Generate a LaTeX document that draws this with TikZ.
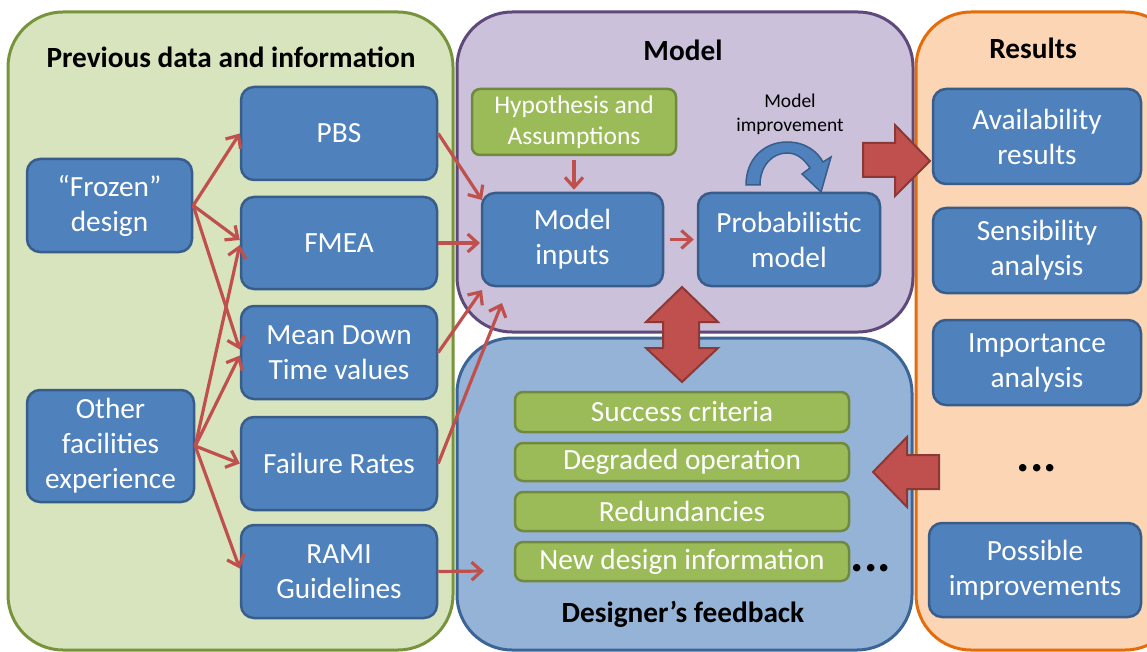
\documentclass[tikz,border=0pt]{standalone}
\usepackage{fontspec}
\setmainfont{Carlito}
\usetikzlibrary{arrows.meta}
\definecolor{bfill}{HTML}{4F81BD}
\definecolor{bdraw}{HTML}{385D8A}
\definecolor{gfill}{HTML}{9BBB59}
\definecolor{gdraw}{HTML}{71893F}
\definecolor{rfill}{HTML}{C0504D}
\definecolor{rdraw}{HTML}{8C3836}
\definecolor{cafill}{HTML}{D7E4BD}
\definecolor{cadraw}{HTML}{77933C}
\definecolor{cbfill}{HTML}{CCC1DA}
\definecolor{cbdraw}{HTML}{5F497A}
\definecolor{ccfill}{HTML}{95B3D7}
\definecolor{ccdraw}{HTML}{3B6596}
\definecolor{cdfill}{HTML}{FCD5B5}
\definecolor{cddraw}{HTML}{E46C0A}
\begin{document}
\begin{tikzpicture}[x=1pt,y=-1pt,
  bluebox/.style={draw=bdraw, fill=bfill, line width=2.5pt, rounded corners=13pt, text=white, align=center, inner sep=0pt, font=\fontsize{29.3}{35}\selectfont},
  greenbox/.style={draw=gdraw, fill=gfill, line width=2.5pt, rounded corners=8pt, text=white, align=center, inner sep=0pt, font=\fontsize{29.3}{34}\selectfont},
  container/.style={line width=3pt, rounded corners=55pt},
  titletext/.style={font=\bfseries\fontsize{29.3}{34}\selectfont, inner sep=0pt},
  link/.style={draw=rfill, line width=3.2pt, -{Straight Barb[length=10pt,width=18pt]}},
  block/.style={fill=rfill, draw=rdraw, line width=2pt, line join=miter},
  dots/.style={font=\bfseries\fontsize{50}{50}\selectfont, inner sep=0pt, anchor=base},
]
\useasboundingbox (0,0) rectangle (1147,652);
% containers
\draw[container, fill=cafill, draw=cadraw] (8,12) rectangle (453,650);
\draw[container, fill=cbfill, draw=cbdraw] (457,12) rectangle (913,332);
\draw[container, fill=ccfill, draw=ccdraw] (457,338) rectangle (912,650);
\draw[container, fill=cdfill, draw=cddraw] (916,12) rectangle (1180,650);
% titles
\node[titletext] (t1) at (231,57) {Previous data and information};
\node[titletext] (t2) at (683,50) {Model};
\node[titletext] (t3) at (1033,48) {Results};
\node[titletext] (t4) at (683,614) {Designer’s feedback};
% left boxes
\node[bluebox, minimum width=165pt, minimum height=93pt] (frozen) at (109.5,205.5) {“Frozen”\\design};
\node[bluebox, minimum width=167pt, minimum height=112pt] (other) at (110.5,446) {Other\\facilities\\experience};
\node[bluebox, minimum width=196pt, minimum height=93pt] (pbs) at (339,133.5) {PBS};
\node[bluebox, minimum width=196pt, minimum height=92pt] (fmea) at (339,243) {FMEA};
\node[bluebox, minimum width=196pt, minimum height=93pt] (mdt) at (339,352.5) {Mean Down\\Time values};
\node[bluebox, minimum width=196pt, minimum height=93pt] (fr) at (339,463.5) {Failure Rates};
\node[bluebox, minimum width=196pt, minimum height=93pt] (rami) at (339,571.5) {RAMI\\Guidelines};
% model
\node[greenbox, minimum width=204pt, minimum height=66pt, font=\fontsize{25.5}{31}\selectfont] (hyp) at (574,122) {Hypothesis and\\Assumptions};
\node[bluebox, minimum width=181pt, minimum height=93pt] (minp) at (572.5,239.5) {Model\\inputs};
\node[bluebox, minimum width=182pt, minimum height=93pt] (prob) at (789,239.5) {Probabilistic\\model};
\node[align=center, inner sep=0pt, font=\fontsize{19.5}{24}\selectfont] (mimp) at (790,114.5) {Model\\improvement};
% results
\node[bluebox, minimum width=208pt, minimum height=95pt] (avail) at (1037,136.5) {Availability\\results};
\node[bluebox, minimum width=208pt, minimum height=85pt] (sens) at (1037,250.5) {Sensibility\\analysis};
\node[bluebox, minimum width=208pt, minimum height=85pt] (imp) at (1037,362.5) {Importance\\analysis};
\node[dots] (rdots) at (1037,471) {...};
\node[bluebox, minimum width=212pt, minimum height=94pt] (poss) at (1035,570) {Possible\\improvements};
% feedback
\node[greenbox, minimum width=334pt, minimum height=40pt] (succ) at (682,412) {Success criteria};
\node[greenbox, minimum width=334pt, minimum height=38pt] (degr) at (682,462) {Degraded operation};
\node[greenbox, minimum width=334pt, minimum height=39pt] (redu) at (682,511.5) {Redundancies};
\node[greenbox, minimum width=334pt, minimum height=39pt] (newd) at (682,561.5) {New design information};
\node[dots] (fdots) at (871,571) {...};
% small arrows
\coordinate (fe) at (frozen.east);
\coordinate (oe) at (other.east);
\draw[link] (fe) -- (pbs.west);
\draw[link] (fe) -- ([yshift=3pt]fmea.west);
\draw[link] (fe) -- ([yshift=3pt]mdt.west);
\draw[link] (oe) -- ([yshift=-2pt]fmea.west);
\draw[link] (oe) -- ([yshift=-3pt]mdt.west);
\draw[link] (oe) -- (fr.west);
\draw[link] (oe) -- ([yshift=3pt]rami.west);
\coordinate (pin1) at (482,200);
\coordinate (pin2) at (482,290);
\coordinate (pin3) at (502,303);
\coordinate (pin4) at (484,571);
\draw[link] (pbs.east) -- (pin1);
\draw[link] (fmea.east) -- (fmea.east -| 480,0);
\draw[link] (mdt.east) -- (pin2);
\draw[link] (fr.east) -- (pin3);
\draw[link] (rami.east) -- (pin4);
\draw[link, shorten <=4pt, shorten >=2pt] (hyp.south) -- (hyp.south |- minp.north);
\draw[link, shorten <=6pt, shorten >=3pt] (minp.east) -- (prob.west);
% curved improvement arrow
\draw[fill=bfill, draw=bdraw, line width=1.5pt, line join=miter]
  (746,185) .. controls (746,158) and (765,142) .. (787,142)
  .. controls (805,142) and (817,151) .. (823,162)
  -- (831,157) -- (821,192) -- (802,174) -- (810,168)
  .. controls (804,159) and (797,153) .. (787,153)
  .. controls (772,153) and (760,166) .. (760,185) -- cycle;
% block arrows
\draw[block] (863,143) -- (895,143) -- (895,125) -- (930,161) -- (895,196) -- (895,177) -- (863,177) -- cycle;
\draw[block] (682,287) -- (718,322) -- (699,322) -- (699,348) -- (718,348) -- (682,382) -- (646,348) -- (663,348) -- (663,322) -- (646,322) -- cycle;
\draw[block] (873,472) -- (907,437) -- (907,455) -- (939,455) -- (939,489) -- (907,489) -- (907,507) -- cycle;
\end{tikzpicture}
\end{document}
